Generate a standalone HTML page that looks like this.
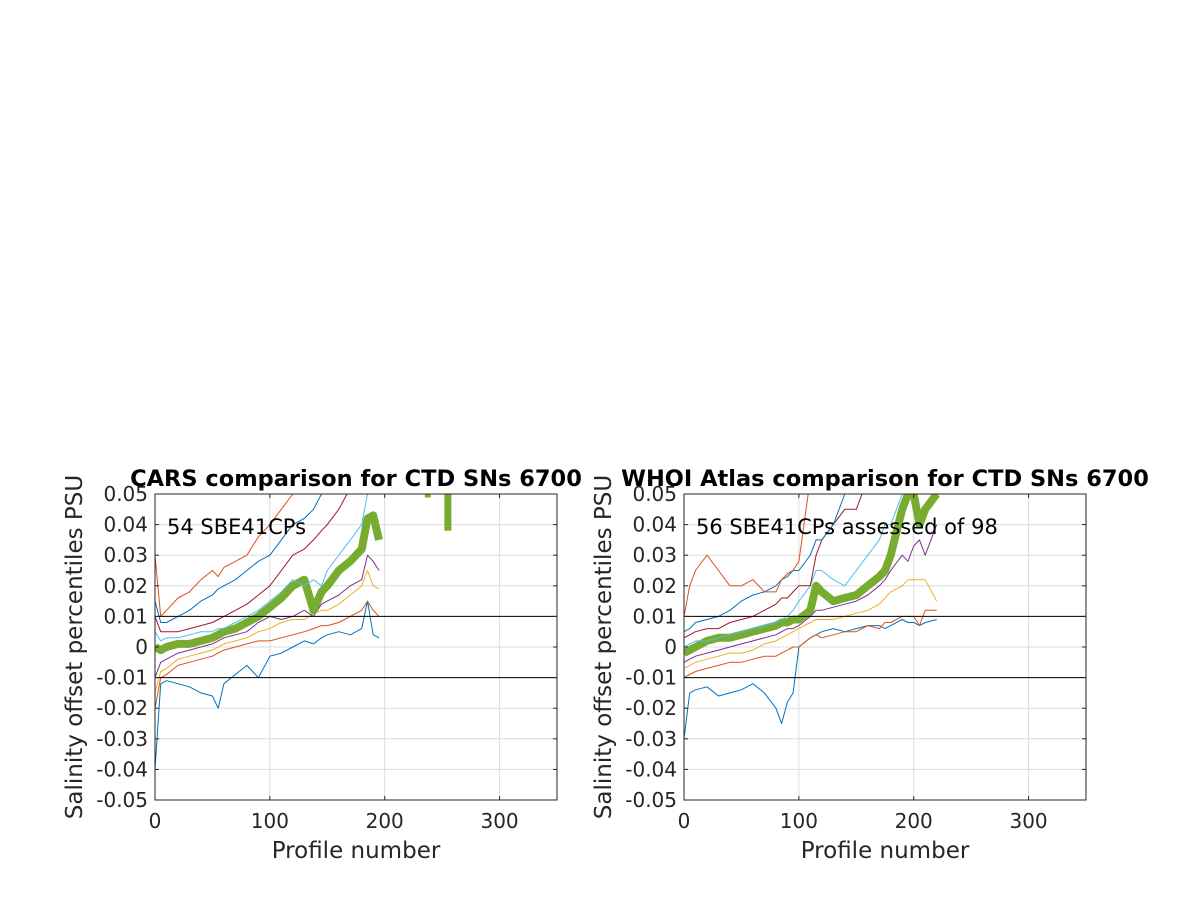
<!DOCTYPE html>
<html><head><meta charset="utf-8"><style>
body{margin:0;background:#fff;font-family:"Liberation Sans","DejaVu Sans",sans-serif}
svg text{font-family:"DejaVu Sans","Liberation Sans",sans-serif}
</style></head><body>
<svg id="fig" width="1200" height="900"></svg>
<script>
const xTicks=[0,100,200,300];
const yTicks=[-0.05,-0.04,-0.03,-0.02,-0.01,0,0.01,0.02,0.03,0.04,0.05];
const yTickLabels=["-0.05","-0.04","-0.03","-0.02","-0.01","0","0.01","0.02","0.03","0.04","0.05"];
const colors=["#0072BD","#D95319","#EDB120","#7E2F8E","#77AC30","#4DBEEE","#A2142F","#0072BD","#D95319"];
// Left (CARS) profile numbers and percentile series
const cProf=[0,5,10,20,30,40,50,55,60,70,80,90,100,110,120,130,138,145,150,160,170,180,185,190,195];
const cS1=[-0.04,-0.012,-0.011,-0.012,-0.013,-0.015,-0.016,-0.02,-0.012,-0.009,-0.006,-0.01,-0.003,-0.002,0,0.002,0.001,0.003,0.004,0.005,0.004,0.006,0.015,0.004,0.003];
const cS2=[-0.02,-0.01,-0.009,-0.006,-0.005,-0.004,-0.003,-0.002,-0.001,0,0.001,0.002,0.002,0.003,0.004,0.005,0.006,0.007,0.007,0.008,0.01,0.012,0.015,0.012,0.01];
const cS3=[-0.015,-0.008,-0.007,-0.004,-0.003,-0.002,-0.001,0,0.001,0.002,0.003,0.005,0.006,0.008,0.009,0.009,0.011,0.012,0.012,0.014,0.017,0.02,0.025,0.02,0.019];
const cS4=[-0.01,-0.005,-0.004,-0.002,-0.001,0,0.001,0.002,0.003,0.004,0.005,0.008,0.01,0.009,0.01,0.012,0.01,0.014,0.015,0.017,0.02,0.022,0.03,0.028,0.025];
const cS5=[0,-0.001,0,0.001,0.001,0.002,0.003,0.004,0.005,0.006,0.008,0.01,0.013,0.016,0.02,0.022,0.012,0.018,0.02,0.025,0.028,0.032,0.042,0.043,0.035];
const cS6=[0.005,0.002,0.003,0.003,0.004,0.005,0.005,0.006,0.006,0.008,0.01,0.012,0.015,0.018,0.022,0.02,0.022,0.02,0.025,0.03,0.035,0.04,0.05,0.052,0.055];
const cS7=[0.01,0.005,0.005,0.005,0.006,0.007,0.008,0.009,0.01,0.012,0.014,0.017,0.02,0.025,0.03,0.032,0.035,0.038,0.04,0.045,0.052,0.055,0.055,0.055,0.055];
const cS8=[0.015,0.008,0.008,0.01,0.012,0.015,0.017,0.019,0.02,0.022,0.025,0.028,0.03,0.035,0.04,0.042,0.045,0.05,0.055,0.055,0.055,0.055,0.055,0.055,0.055];
const cS9=[0.03,0.01,0.012,0.016,0.018,0.022,0.025,0.023,0.026,0.028,0.03,0.036,0.04,0.045,0.05,0.055,0.055,0.055,0.055,0.055,0.055,0.055,0.055,0.055,0.055];
// Left late-profile fragments (median only)
const cFragProf=[235,240,255,255];
const cFragMed=[0.05,0.05,0.05,0.038];
// Right (WHOI) profile numbers and percentile series
const wProf=[0,5,10,20,30,40,50,60,70,80,85,90,95,100,110,115,120,130,140,150,160,170,175,180,190,195,200,205,210,220];
const wS1=[-0.03,-0.015,-0.014,-0.013,-0.016,-0.015,-0.014,-0.012,-0.015,-0.02,-0.025,-0.018,-0.015,0,0.003,0.004,0.005,0.006,0.005,0.006,0.007,0.007,0.006,0.007,0.009,0.008,0.008,0.007,0.008,0.009];
const wS2=[-0.01,-0.009,-0.008,-0.007,-0.006,-0.005,-0.005,-0.004,-0.003,-0.003,-0.002,-0.001,0,0,0.003,0.004,0.003,0.004,0.005,0.005,0.007,0.006,0.008,0.008,0.01,0.01,0.01,0.007,0.012,0.012];
const wS3=[-0.007,-0.006,-0.005,-0.004,-0.003,-0.002,-0.002,-0.001,0.001,0.002,0.003,0.004,0.005,0.006,0.008,0.009,0.009,0.009,0.01,0.011,0.012,0.014,0.016,0.018,0.02,0.022,0.022,0.022,0.022,0.015];
const wS4=[-0.005,-0.004,-0.003,-0.002,-0.001,0,0.001,0.002,0.003,0.004,0.005,0.006,0.006,0.007,0.01,0.012,0.012,0.013,0.014,0.015,0.017,0.02,0.022,0.025,0.03,0.028,0.033,0.035,0.03,0.04];
const wS5=[-0.002,-0.001,0,0.002,0.003,0.003,0.004,0.005,0.006,0.007,0.008,0.008,0.009,0.009,0.012,0.02,0.018,0.015,0.016,0.017,0.02,0.023,0.025,0.03,0.045,0.05,0.05,0.04,0.045,0.05];
const wS6=[0,0.001,0.002,0.002,0.003,0.004,0.005,0.006,0.007,0.008,0.009,0.01,0.012,0.015,0.02,0.025,0.025,0.022,0.02,0.025,0.03,0.035,0.04,0.04,0.05,0.055,0.055,0.055,0.055,0.055];
const wS7=[0.003,0.004,0.005,0.006,0.006,0.008,0.009,0.01,0.012,0.014,0.016,0.016,0.018,0.02,0.02,0.03,0.035,0.04,0.045,0.045,0.055,0.055,0.055,0.055,0.055,0.055,0.055,0.055,0.055,0.055];
const wS8=[0.005,0.006,0.008,0.009,0.01,0.012,0.015,0.017,0.018,0.02,0.022,0.023,0.025,0.025,0.03,0.035,0.035,0.04,0.05,0.055,0.055,0.055,0.055,0.055,0.055,0.055,0.055,0.055,0.055,0.055];
const wS9=[0.01,0.02,0.025,0.03,0.025,0.02,0.02,0.022,0.018,0.018,0.022,0.024,0.025,0.028,0.055,0.055,0.055,0.055,0.055,0.055,0.055,0.055,0.055,0.055,0.055,0.055,0.055,0.055,0.055,0.055];

const NS="http://www.w3.org/2000/svg";
const svg=document.getElementById('fig');
function mk(tag,attrs,parent){const e=document.createElementNS(NS,tag);for(const k in attrs)e.setAttribute(k,attrs[k]);(parent||svg).appendChild(e);return e;}

function drawPanel(id,x0,title,note,prof,series,frag){
  const w=402,y0=494,h=306;
  const sx=v=>x0+v/350*w, sy=v=>y0+(0.05-v)/0.1*h;
  const g=mk('g',{});
  
  
  const clipId=id+'-clip';
  const cp=mk('clipPath',{id:clipId},g);mk('rect',{x:x0,y:y0,width:w,height:h},cp);
  mk('rect',{x:x0,y:y0,width:w,height:h,fill:'#fff'},g);
  xTicks.forEach(t=>{const l=mk('line',{x1:sx(t),x2:sx(t),y1:y0,y2:y0+h,stroke:'#dcdcdc','stroke-width':1},g);
    });
  yTicks.forEach(t=>{const l=mk('line',{x1:x0,x2:x0+w,y1:sy(t),y2:sy(t),stroke:'#dcdcdc','stroke-width':1},g);
    });
  const dg=mk('g',{'clip-path':'url(#'+clipId+')'},g);
  series.forEach((s,i)=>{
    const pts=prof.map((p,j)=>sx(p).toFixed(1)+','+sy(s[j]).toFixed(1)).join(' ');
    const pl=mk('polyline',{points:pts,fill:'none',stroke:colors[i],'stroke-width':i==4?8:1,'stroke-linejoin':'round'},dg);
    
    
  });
  if(frag){
    for(let k=0;k<frag[0].length;k+=2){
      const fl=mk('line',{x1:sx(frag[0][k]),x2:sx(frag[0][k+1]),y1:sy(frag[1][k]),y2:sy(frag[1][k+1]),stroke:colors[4],'stroke-width':7},dg);
      
      
    }
  }
  [0.01,-0.01].forEach(v=>{const l=mk('line',{x1:x0,x2:x0+w,y1:sy(v),y2:sy(v),stroke:'#000','stroke-width':1},g);
    });
  const fr=mk('rect',{x:x0,y:y0,width:w,height:h,fill:'none',stroke:'#262626','stroke-width':1},g);
  
  xTicks.forEach(t=>{
    mk('line',{x1:sx(t),x2:sx(t),y1:y0+h,y2:y0+h-4,stroke:'#262626'},g);
    mk('line',{x1:sx(t),x2:sx(t),y1:y0,y2:y0+4,stroke:'#262626'},g);
    const tx=mk('text',{x:sx(t),y:y0+h+28,'font-size':20,'text-anchor':'middle',fill:'#262626'},g);tx.textContent=t;
    
  });
  yTicks.forEach((t,i)=>{
    mk('line',{x1:x0,x2:x0+4,y1:sy(t),y2:sy(t),stroke:'#262626'},g);
    mk('line',{x1:x0+w,x2:x0+w-4,y1:sy(t),y2:sy(t),stroke:'#262626'},g);
    const tx=mk('text',{x:x0-7,y:sy(t)+7,'font-size':20,'text-anchor':'end',fill:'#262626'},g);tx.textContent=yTickLabels[i];
    
  });
  const xl=mk('text',{x:x0+w/2,y:858,'font-size':23,'text-anchor':'middle',fill:'#262626'},g);xl.textContent='Profile number';
  
  const yl=mk('text',{x:0,y:0,'font-size':23,'text-anchor':'middle',fill:'#262626',transform:'translate('+(x0-73)+','+(y0+h/2)+') rotate(-90)'},g);yl.textContent='Salinity offset percentiles PSU';
  
  const tt=mk('text',{x:x0+w/2,y:486,'font-size':22.5,'font-weight':'bold','text-anchor':'middle',fill:'#000'},g);tt.textContent=title;
  
  const nt=mk('text',{x:x0+12,y:534,'font-size':21,fill:'#000'},g);nt.textContent=note;
  
}
drawPanel('cars',155,'CARS comparison for CTD SNs 6700','54 SBE41CPs',cProf,[cS1,cS2,cS3,cS4,cS5,cS6,cS7,cS8,cS9],[cFragProf,cFragMed]);
drawPanel('whoi',684,'WHOI Atlas comparison for CTD SNs 6700','56 SBE41CPs assessed of 98',wProf,[wS1,wS2,wS3,wS4,wS5,wS6,wS7,wS8,wS9],null);
</script>
</body></html>
